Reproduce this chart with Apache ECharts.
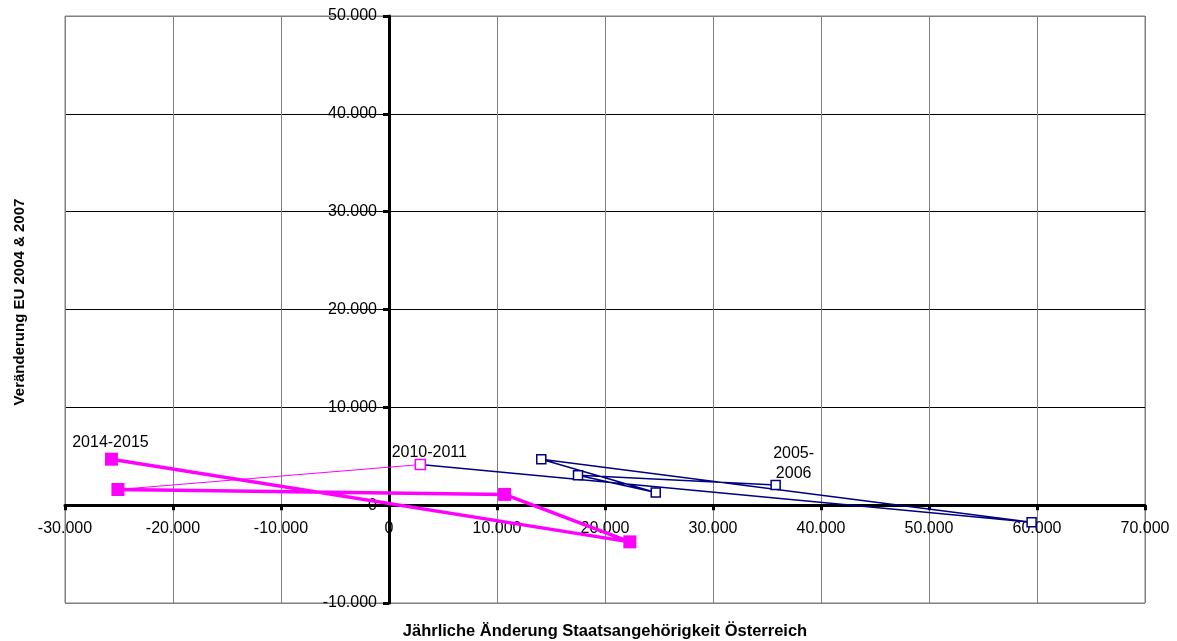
<!DOCTYPE html>
<html>
<head>
<meta charset="utf-8">
<script src="https://cdn.jsdelivr.net/npm/echarts@6/dist/echarts.min.js"></script>
<style>
  html, body { margin: 0; padding: 0; background: #fff; }
  #chart { width: 1177px; height: 641px; }
</style>
</head>
<body>
<div id="chart"></div>
<script>
// Annual periods, in chronological order along the path
const periods = ['2005-2006', '2006-2007', '2007-2008', '2008-2009', '2009-2010',
                 '2010-2011', '2011-2012', '2012-2013', '2013-2014', '2014-2015'];
// x: annual change, Austrian citizenship
const aenderungOesterreich = [35800, 17500, 24700, 14100, 59500, 2900, -25100, 10700, 22300, -25700];
// y: change, EU 2004 & 2007 citizens
const aenderungEU = [2050, 3050, 1300, 4700, -1750, 4150, 1600, 1100, -3750, 4700];
// Periods that carry a text label
const labelledPeriods = ['2005-2006', '2010-2011', '2014-2015'];
// Axis ranges and step
const xTicks = { min: -30000, max: 70000, step: 10000 };
const yTicks = { min: -10000, max: 50000, step: 10000 };

const FONT = '"Liberation Sans", Arial, sans-serif';
const NAVY = '#000080';
const PINK = '#FF00FF';

// Plot frame in pixels
const GRID = { left: 65, right: 32, top: 16, bottom: 38 };
const W = 1177, H = 641;
const plotW = W - GRID.left - GRID.right;
const plotH = H - GRID.top - GRID.bottom;
// Shift the axes so they cross at the origin (labels and ticks travel with them)
const xAxisOffset = -plotH * (0 - yTicks.min) / (yTicks.max - yTicks.min);
const yAxisOffset = -plotW * (0 - xTicks.min) / (xTicks.max - xTicks.min);

function fmt(v) {
  if (v === 0) return '0';
  const s = Math.abs(v).toString().replace(/\B(?=(\d{3})+(?!\d))/g, '.');
  return (v < 0 ? '-' : '') + s;
}

const labelStyles = {
  '2005-2006': { formatter: '2005-\n2006', offset: [18, -22] },
  '2010-2011': { formatter: '2010-2011', offset: [9, -12] },
  '2014-2015': { formatter: '2014-2015', offset: [-1, -17] }
};

function point(i) {
  const p = periods[i];
  const item = { name: p, value: [aenderungOesterreich[i], aenderungEU[i]] };
  if (labelledPeriods.includes(p)) {
    item.label = Object.assign({
      show: true, position: 'inside', color: '#000',
      fontFamily: FONT, fontSize: 16, lineHeight: 20, align: 'center'
    }, labelStyles[p]);
  }
  return item;
}
function range(a, b) { const r = []; for (let i = a; i <= b; i++) r.push(point(i)); return r; }

const idx2010 = periods.indexOf('2010-2011');
const idx2011 = periods.indexOf('2011-2012');

const chart = echarts.init(document.getElementById('chart'), null, { renderer: 'canvas' });
chart.setOption({
  animation: false,
  backgroundColor: '#fff',
  grid: Object.assign({
    show: true, borderColor: '#808080', borderWidth: 1, backgroundColor: 'transparent'
  }, GRID),
  xAxis: {
    type: 'value', min: xTicks.min, max: xTicks.max, interval: xTicks.step,
    position: 'bottom', offset: xAxisOffset,
    axisLine: { show: true, onZero: false, lineStyle: { color: '#000', width: 3 } },
    axisTick: { show: true, length: 5, lineStyle: { color: '#000', width: 3 } },
    axisLabel: { formatter: fmt, color: '#000', fontFamily: FONT, fontSize: 16, margin: 15 },
    splitLine: { show: true, lineStyle: { color: '#808080', width: 1 } }
  },
  yAxis: {
    type: 'value', min: yTicks.min, max: yTicks.max, interval: yTicks.step,
    position: 'left', offset: yAxisOffset,
    axisLine: { show: true, onZero: false, lineStyle: { color: '#000', width: 3 } },
    axisTick: { show: true, length: 6, lineStyle: { color: '#000', width: 3 } },
    axisLabel: { formatter: fmt, color: '#000', fontFamily: FONT, fontSize: 16, margin: 12 },
    splitLine: { show: true, lineStyle: {
      color: ['#808080', '#000', '#000', '#000', '#000', '#000', '#808080'], width: 1 } }
  },
  graphic: [
    {
      type: 'text', x: GRID.left + plotW / 2, y: 631,
      style: { text: 'Jährliche Änderung Staatsangehörigkeit Österreich',
               font: 'bold 16.5px ' + FONT, fill: '#000', align: 'center', verticalAlign: 'middle' }
    },
    {
      type: 'text', x: 20, y: 302, rotation: Math.PI / 2,
      style: { text: 'Veränderung EU 2004 & 2007', font: 'bold 15px ' + FONT, fill: '#000',
               align: 'center', verticalAlign: 'middle' }
    }
  ],
  series: [
    {
      type: 'line', z: 3,
      data: range(0, idx2010 - 1).concat([{ value: [aenderungOesterreich[idx2010], aenderungEU[idx2010]], symbol: 'none' }]),
      symbol: 'rect', symbolSize: 9,
      itemStyle: { color: '#fff', borderColor: NAVY, borderWidth: 1.5 },
      lineStyle: { color: NAVY, width: 1.5 }
    },
    {
      type: 'line', z: 4,
      data: [point(idx2010), { value: [aenderungOesterreich[idx2011], aenderungEU[idx2011]], symbol: 'none' }],
      symbol: 'rect', symbolSize: 10,
      itemStyle: { color: '#fff', borderColor: PINK, borderWidth: 1.5 },
      lineStyle: { color: PINK, width: 1 }
    },
    {
      type: 'line', z: 5,
      data: range(idx2011, periods.length - 1),
      symbol: 'rect', symbolSize: 13,
      itemStyle: { color: PINK },
      lineStyle: { color: PINK, width: 3.5 }
    }
  ]
});
</script>
</body>
</html>
